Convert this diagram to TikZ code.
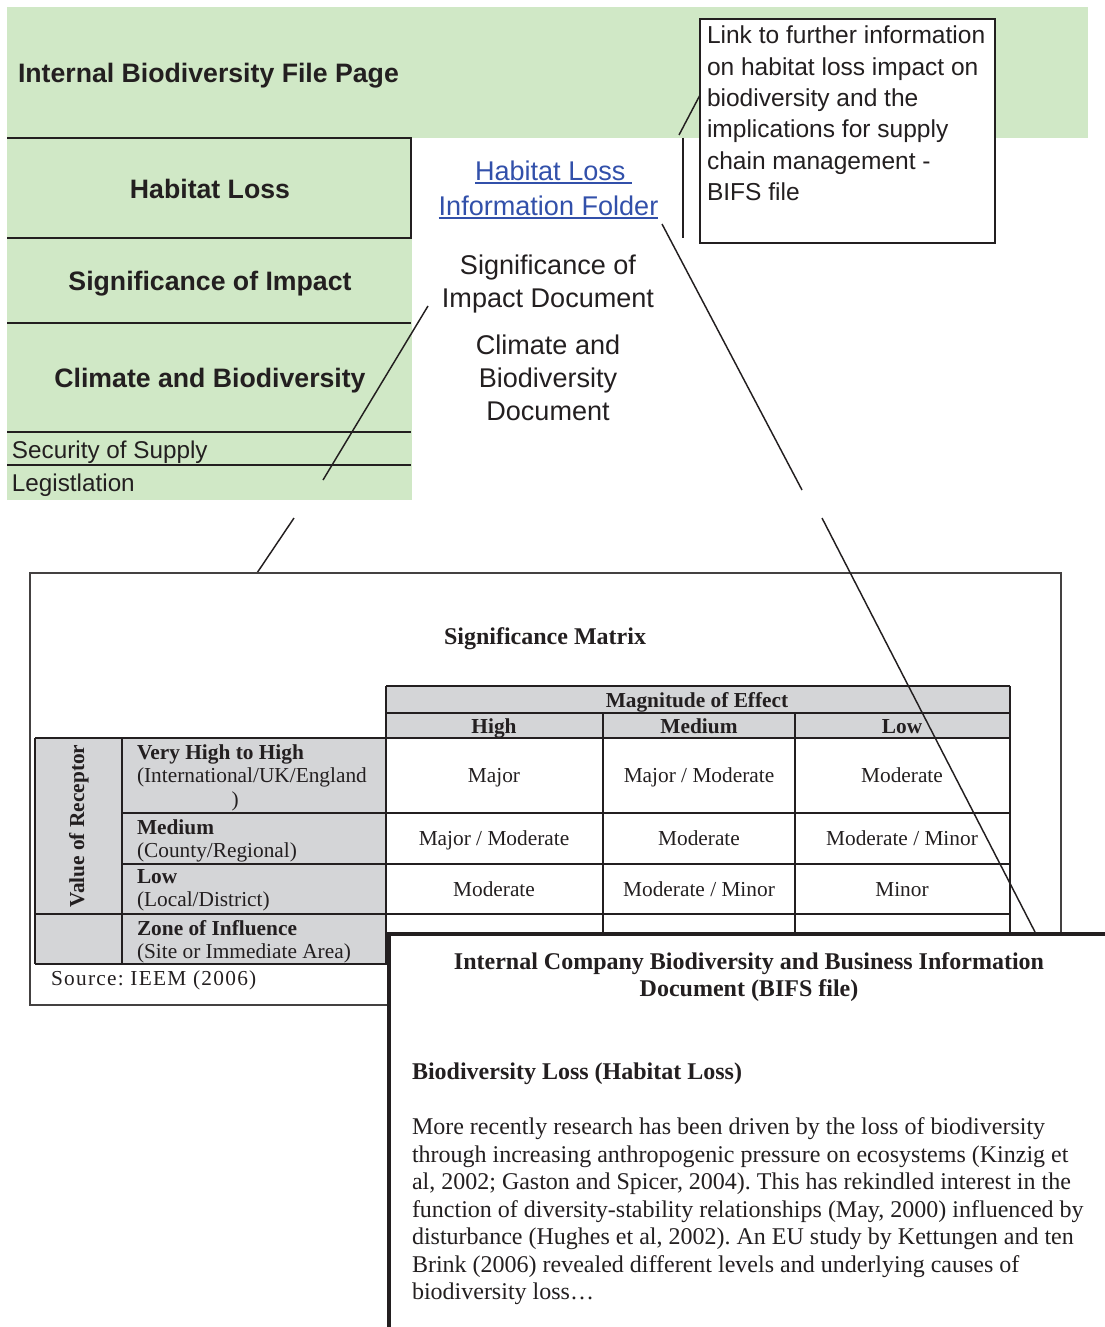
\documentclass[tikz,border=0pt]{standalone}
\usepackage{fontspec}
\setmainfont{Liberation Serif}
\setsansfont{Liberation Sans}
\newfontfamily\spacedserif[LetterSpace=6]{Liberation Serif}
\usetikzlibrary{calc}
\definecolor{leaf}{RGB}{208,232,198}
\definecolor{cellgrey}{RGB}{212,213,215}
\definecolor{linkblue}{RGB}{50,80,170}
\definecolor{ink}{RGB}{35,31,32}
\newcommand\fsz[2]{\fontsize{#1}{#2}\selectfont}
\frenchspacing
\begin{document}
\begin{tikzpicture}[x=0.75pt,y=-0.75pt,
  every node/.style={inner sep=0pt, outer sep=0pt, text=ink},
  bandtitle/.style={font=\sffamily\bfseries\fsz{20}{24}},
  bandsmall/.style={font=\sffamily\fsz{18.2}{22}, anchor=base west},
  linktext/.style={font=\sffamily\fsz{20.3}{24.75}, text=linkblue, anchor=base},
  midtext/.style={font=\sffamily\fsz{20.3}{24.75}, align=center, anchor=north},
  notetext/.style={font=\sffamily\fsz{18.4}{23.5}, align=left, anchor=north west},
  rule/.style={draw=ink, line width=1.5pt},
  pointer/.style={draw=ink, line width=1.1pt},
  grid/.style={draw=ink, line width=1.4pt},
  tabhead/.style={font=\bfseries\fsz{16}{17.6}, anchor=base},
  tabcell/.style={font=\fsz{16}{17.6}, anchor=base},
  rowhead/.style={font=\fsz{16}{17.6}, align=left, anchor=north west},
  doctitle/.style={font=\bfseries\fsz{18}{20.25}, align=center, anchor=north},
  doctext/.style={font=\fsz{18}{20.6}, align=left, anchor=north west},
]
\useasboundingbox (0,0) rectangle (1105,1327);
\clip (0,0) rectangle (1105,1327);

% ---- file page: green band and side menu
\fill[leaf] (7,7) rectangle (1088,138);
\fill[leaf] (7,138) rectangle (412,500);
\draw[rule] (7,138) -- (411,138) -- (411,238) -- (7,238);
\draw[rule] (7,323) -- (411,323);
\draw[rule] (7,432) -- (411,432);
\draw[rule] (7,465) -- (411,465);

\node[bandtitle, anchor=base west] (filepage) at (18,82.5) {Internal Biodiversity File Page};
\node[bandtitle, anchor=base] (habitat) at (210,198.5) {Habitat Loss};
\node[bandtitle, anchor=base] (signif) at (210,290.5) {Significance of Impact};
\node[bandtitle, anchor=base] (climate) at (210,387.5) {Climate and Biodiversity};
\node[bandsmall] (supply) at (12,458.7) {Security of Supply};
\node[bandsmall] (legis) at (12,491.7) {Legistlation};

% ---- folder link and document names
\node[linktext, anchor=base west] (folderA) at (475,180.5) {Habitat Loss};
\node[linktext] (folderB) at (548.5,215) {Information Folder};
\draw[linkblue, line width=1.5pt] ([yshift=-2pt]folderA.base west) -- ([yshift=-2pt,xshift=5pt]folderA.base east);
\draw[linkblue, line width=1.5pt] ([yshift=-2pt]folderB.base west) -- ([yshift=-2pt]folderB.base east);

\node[midtext] (sigdoc) at (548,255) {Significance of\\Impact Document};
\node[midtext] (climdoc) at (548,335) {Climate and\\Biodiversity\\Document};

% ---- note box
\node[draw=ink, line width=1.5pt, fill=white, anchor=north west,
      minimum width=221.25pt, minimum height=168pt] (note) at (700,19) {};
\node[notetext] (notetxt) at (707,26) {Link to further information\\on habitat loss impact on\\biodiversity and the\\implications for supply\\chain management -\\BIFS file};

\coordinate (pA) at (679,135);
\coordinate (pB) at (700,95);
\draw[pointer] (pA) -- (pB);
\coordinate (barTop) at (683,138);
\coordinate (barBot) at (683,238);
\draw[ink, line width=2.2pt] (barTop) -- (barBot);

% ---- connectors from the documents
\coordinate (f1) at (662,224); \coordinate (f2) at (802,490);
\coordinate (s1) at (428,306); \coordinate (s2) at (323,480);
\coordinate (s3) at (294,518); \coordinate (s4) at (257,573);
\draw[pointer] (f1) -- (f2);
\draw[pointer] (s1) -- (s2);
\draw[pointer] (s3) -- (s4);

% ---- significance matrix sheet
\draw[draw=ink!85, line width=1.3pt] (30,573) rectangle (1061,1005);
\node[font=\bfseries\fsz{18}{20}, anchor=base] (mtitle) at (545,644) {Significance Matrix};

\fill[cellgrey] (386,686) rectangle (1010,738);
\fill[cellgrey] (35,738) rectangle (386,964);
\draw[grid] (386,686) -- (1010,686);
\draw[grid] (386,713) -- (1010,713);
\draw[grid] (35,738) -- (1010,738);
\draw[grid] (122,813) -- (1010,813);
\draw[grid] (122,864) -- (1010,864);
\draw[grid] (35,914) -- (1010,914);
\draw[grid] (35,964) -- (1010,964);
\draw[grid] (35,738) -- (35,964);
\draw[grid] (122,738) -- (122,964);
\draw[grid] (386,686) -- (386,964);
\draw[grid] (603,713) -- (603,964);
\draw[grid] (795,713) -- (795,964);
\draw[grid] (1010,686) -- (1010,964);

\node[tabhead] (magn) at (697,707) {Magnitude of Effect};
\node[tabhead] (colH) at (494,733) {High};
\node[tabhead] (colM) at (699,733) {Medium};
\node[tabhead] (colL) at (902,733) {Low};

\node[tabcell] (c11) at (494,782) {Major};
\node[tabcell] (c12) at (699,782) {Major / Moderate};
\node[tabcell] (c13) at (902,782) {Moderate};
\node[tabcell] (c21) at (494,845) {Major / Moderate};
\node[tabcell] (c22) at (699,845) {Moderate};
\node[tabcell] (c23) at (902,845) {Moderate / Minor};
\node[tabcell] (c31) at (494,896) {Moderate};
\node[tabcell] (c32) at (699,896) {Moderate / Minor};
\node[tabcell] (c33) at (902,896) {Minor};

\node[font=\bfseries\fsz{16}{18}, rotate=90] (receptor) at (79,826) {Value of Receptor};
\node[rowhead] (rVH) at (137,744.5) {\textbf{Very High to High}\\(International/UK/England\\\hspace*{71pt})};
\node[rowhead] (rMed) at (137,819.5) {\textbf{Medium}\\(County/Regional)};
\node[rowhead] (rLow) at (137,869.5) {\textbf{Low}\\(Local/District)};
\node[rowhead] (rZone) at (137,920.5) {\textbf{Zone of Influence}\\(Site or Immediate Area)};

\node[font=\spacedserif\fsz{16}{18}, anchor=base west] (source) at (51,985) {Source: IEEM (2006)};

\coordinate (f3) at (822,518); \coordinate (f4) at (1035,932);
\draw[pointer] (f3) -- (f4);

% ---- BIFS document sheet
\node[fill=white, anchor=north west, minimum width=540pt, minimum height=300pt] (bifs) at (389,934) {};
\draw[ink, line width=3.4pt] (bifs.north east) -- (bifs.north west) -- (bifs.south west);

\node[doctitle] (bifstitle) at (749,953) {Internal Company Biodiversity and Business Information\\Document (BIFS file)};
\node[font=\bfseries\fsz{18}{20.6}, anchor=base west] (losshead) at (412,1079) {Biodiversity Loss (Habitat Loss)};
\node[doctext] (losstext) at (412,1118) {More recently research has been driven by the loss of biodiversity\\through increasing anthropogenic pressure on ecosystems (Kinzig et\\al, 2002; Gaston and Spicer, 2004). This has rekindled interest in the\\function of diversity-stability relationships (May, 2000) influenced by\\disturbance (Hughes et al, 2002). An EU study by Kettungen and ten\\Brink (2006) revealed different levels and underlying causes of\\biodiversity loss…};
\end{tikzpicture}
\end{document}
